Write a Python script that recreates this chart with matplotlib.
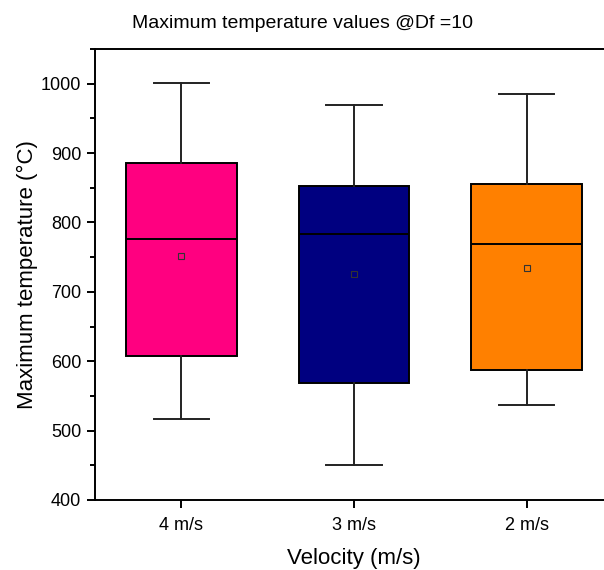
import numpy as np
import matplotlib.pyplot as plt
import matplotlib.ticker as mtick

plt.rcParams['font.family'] = ['Liberation Sans', 'DejaVu Sans']

labels = ['4 m/s', '3 m/s', '2 m/s']
whis_lo = [517, 451, 537]
q1 = [608, 568, 588]
med = [776, 783, 769]
q3 = [885, 852, 855]
whis_hi = [1001, 970, 985]
means = [751, 726, 735]
colors = ['#FF0080', '#000080', '#FF8000']

stats = []
for i in range(len(labels)):
    stats.append(dict(label=labels[i], whislo=whis_lo[i], q1=q1[i], med=med[i],
                      q3=q3[i], whishi=whis_hi[i], mean=means[i]))

fig = plt.figure(figsize=(6.04, 5.70), dpi=100)
ax = fig.add_axes([95/604, 70/570, 518/604, 451/570])

bp = ax.bxp(stats, positions=[1, 2, 3], widths=0.64, showmeans=True,
            showfliers=False, patch_artist=True,
            boxprops=dict(linewidth=1.4, edgecolor='black'),
            medianprops=dict(color='black', linewidth=1.4),
            whiskerprops=dict(color='#222222', linewidth=1.4),
            capprops=dict(color='#222222', linewidth=1.4),
            capwidths=0.32,
            meanprops=dict(marker='s', markersize=4, markerfacecolor='none',
                           markeredgecolor='#333333', markeredgewidth=0.8))
for patch, c in zip(bp['boxes'], colors):
    patch.set_facecolor(c)

ax.set_xlim(0.5, 3.5)
ax.set_ylim(400, 1050)
ax.yaxis.set_major_locator(mtick.MultipleLocator(100))
ax.yaxis.set_minor_locator(mtick.MultipleLocator(50))
ax.tick_params(axis='both', which='major', direction='out', length=6, width=1.4,
               labelsize=13, pad=4)
ax.tick_params(axis='x', which='major', pad=6)
ax.tick_params(axis='y', which='minor', direction='out', length=3.5, width=1.4)
for s in ax.spines.values():
    s.set_linewidth(1.4)

ax.set_xlabel('Velocity (m/s)', fontsize=16, labelpad=10)
ax.set_ylabel('Maximum temperature (°C)', fontsize=16, labelpad=2)
fig.text(0.5, 1 - 28/570, 'Maximum temperature values @Df =10', ha='center',
         va='baseline', fontsize=14)

plt.savefig('out.png', dpi=100)
